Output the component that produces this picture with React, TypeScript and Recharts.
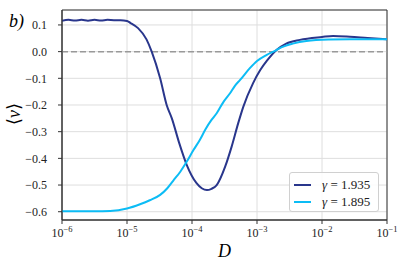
import React from 'react'
import {
  LineChart,
  Line,
  XAxis,
  YAxis,
  CartesianGrid,
  ReferenceLine,
  ReferenceArea,
} from 'recharts'

// x values are log10(D)
const logD1935 = [
  -6.0, -5.9, -5.8, -5.7, -5.6, -5.5, -5.4, -5.3, -5.2, -5.1, -5.0, -4.95, -4.83, -4.7, -4.62,
  -4.49, -4.39, -4.31, -4.2, -4.08, -3.93, -3.85, -3.77, -3.7, -3.62, -3.49, -3.39, -3.29, -3.21,
  -3.06, -2.95, -2.85, -2.7, -2.55, -2.34, -2.0, -1.83, -1.57, -1.3, -1.0,
]
const v1935 = [
  0.116, 0.119, 0.117, 0.119, 0.116, 0.119, 0.117, 0.119, 0.118, 0.118, 0.115, 0.108, 0.088, 0.046, 0.0,
  -0.1, -0.2, -0.25, -0.34, -0.425, -0.493, -0.512, -0.519, -0.514, -0.5, -0.431, -0.356, -0.269, -0.206,
  -0.118, -0.069, -0.035, 0.006, 0.03, 0.044, 0.055, 0.059, 0.056, 0.051, 0.046,
]

const logD1895 = [
  -6.0, -5.5, -5.26, -5.0, -4.8, -4.65, -4.49, -4.38, -4.29, -4.18, -4.08, -3.98, -3.88, -3.79, -3.7,
  -3.62, -3.52, -3.415, -3.34, -3.26, -3.11, -3.0, -2.85, -2.7, -2.65, -2.45, -2.24, -1.9, -1.57, -1.3, -1.0,
]
const v1895 = [
  -0.598, -0.598, -0.597, -0.588, -0.572, -0.557, -0.537, -0.512, -0.484, -0.45, -0.412, -0.37, -0.331, -0.29, -0.256,
  -0.231, -0.19, -0.156, -0.128, -0.106, -0.062, -0.035, -0.012, 0.006, 0.013, 0.03, 0.04, 0.045, 0.046, 0.046, 0.046,
]

const xTicks = [-6, -5, -4, -3, -2, -1]
const yTicks = [0.1, 0.0, -0.1, -0.2, -0.3, -0.4, -0.5, -0.6]
const minorTicks: number[] = []
for (let n = -6; n < -1; n++) {
  for (let k = 2; k <= 9; k++) minorTicks.push(n + Math.log10(k))
}

const series1935 = logD1935.map((x, i) => ({ x, v: v1935[i] }))
const series1895 = logD1895.map((x, i) => ({ x, v: v1895[i] }))

const DARK = '#29368c'
const CYAN = '#0cbcf5'
const FONT = '"Liberation Serif", "DejaVu Serif", serif'

const PowerTick = (props: any) => {
  const { x, y, payload } = props
  const exp = String(payload.value).replace('-', '−')
  return (
    <text x={x} y={y + 11} textAnchor="middle" fontFamily={FONT} fontSize={12} fill="#222">
      <tspan>10</tspan>
      <tspan dy={-5} fontSize={8.5}>{exp}</tspan>
    </text>
  )
}

const LegendBox = () => (
  <div
    style={{
      position: 'absolute',
      left: 289,
      top: 172,
      width: 90,
      height: 40,
      boxSizing: 'border-box',
      border: '1px solid #d0d0d0',
      borderRadius: 3,
      background: 'rgba(255,255,255,0.85)',
      padding: '3px 4px',
      fontFamily: FONT,
      fontSize: 13,
      color: '#222',
    }}
  >
    {[
      { c: DARK, g: '1.935' },
      { c: CYAN, g: '1.895' },
    ].map((e) => (
      <div key={e.g} style={{ display: 'flex', alignItems: 'center', height: 17 }}>
        <span style={{ display: 'inline-block', width: 17, height: 2, background: e.c, marginRight: 11 }} />
        <span>
          <i>γ</i> = {e.g}
        </span>
      </div>
    ))}
  </div>
)

export default function App() {
  return (
    <div style={{ position: 'absolute', left: 0, top: 0, width: 407, height: 266, background: '#fff' }}>
      <LineChart width={407} height={266} margin={{ top: 10, right: 20, bottom: 16, left: 0 }}>
        <CartesianGrid stroke="#dedede" strokeWidth={1} />
        <XAxis
          xAxisId="minor"
          type="number"
          dataKey="x"
          domain={[-6, -1]}
          ticks={minorTicks}
          tick={false}
          tickSize={2}
          axisLine={false}
          stroke="#333"
          height={0}
          allowDataOverflow
        />
        <XAxis
          type="number"
          dataKey="x"
          domain={[-6, -1]}
          ticks={xTicks}
          tick={<PowerTick />}
          tickSize={4}
          tickMargin={2}
          stroke="#333"
          height={30}
          allowDataOverflow
        />
        <YAxis
          type="number"
          domain={[-0.631, 0.156]}
          ticks={yTicks}
          tickFormatter={(v: number) => (v < 0 ? '−' : '') + Math.abs(v).toFixed(1)}
          tick={{ fontFamily: FONT, fontSize: 12, fill: '#222' }}
          tickSize={4}
          tickMargin={11}
          stroke="#333"
          width={62}
          allowDataOverflow
        />
        <ReferenceLine y={0} stroke="#999" strokeDasharray="6 3" strokeWidth={1.5} />
        <Line
          data={series1935}
          dataKey="v"
          type="monotone"
          stroke={DARK}
          strokeWidth={2}
          dot={false}
          isAnimationActive={false}
        />
        <Line
          data={series1895}
          dataKey="v"
          type="monotone"
          stroke={CYAN}
          strokeWidth={2}
          dot={false}
          isAnimationActive={false}
        />
        <ReferenceArea x1={-6} x2={-1} y1={-0.631} y2={0.156} fill="none" stroke="#333" strokeWidth={1} />
      </LineChart>
      <LegendBox />
      <div style={{ position: 'absolute', left: 9, top: 11, fontFamily: FONT, fontSize: 18, fontStyle: 'italic' }}>
        b)
      </div>
      <div
        style={{
          position: 'absolute',
          left: 14,
          top: 114,
          fontFamily: FONT,
          fontSize: 18,
          transform: 'translate(-50%, -50%) rotate(-90deg)',
          whiteSpace: 'nowrap',
        }}
      >
        ⟨<i>v</i>⟩
      </div>
      <div style={{ position: 'absolute', left: 218, top: 241, fontFamily: FONT, fontSize: 18, fontStyle: 'italic' }}>
        D
      </div>
    </div>
  )
}
